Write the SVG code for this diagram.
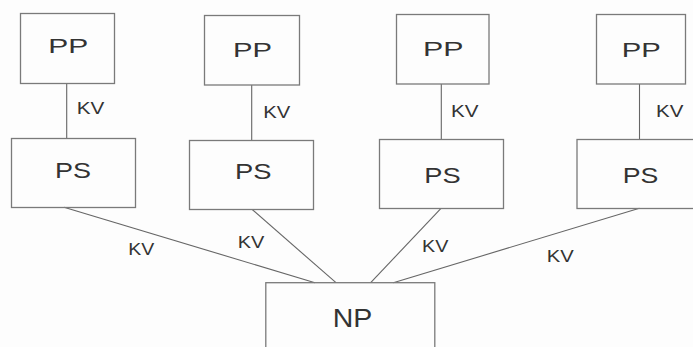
<svg xmlns="http://www.w3.org/2000/svg" width="693" height="347" viewBox="0 0 693 347">
<style>
.box{fill:none;stroke:#7a7a7a;stroke-width:1.3}
.link{stroke:#666;stroke-width:1.1;fill:none}
.lbl{font-family:"Liberation Sans",Arial,sans-serif;fill:#333}
.big{font-size:21px}
.ps{font-size:22px}
.np{font-size:25px}
.kv{font-size:16.5px}
</style>
<rect x="0" y="0" width="693" height="347" fill="#fdfdfd"/>
<g id="connectors">
<line class="link" x1="66.7" y1="83.3" x2="66.7" y2="138.3"/>
<line class="link" x1="251.7" y1="85" x2="251.7" y2="140.3"/>
<line class="link" x1="441.3" y1="84" x2="441.3" y2="139.3"/>
<line class="link" x1="639.5" y1="84" x2="639.5" y2="139.3"/>
<line class="link" x1="64" y1="207.3" x2="315" y2="282.7"/>
<line class="link" x1="252" y1="209.3" x2="336" y2="282.7"/>
<line class="link" x1="441" y1="208.3" x2="370.7" y2="282.7"/>
<line class="link" x1="639.4" y1="208.3" x2="393.3" y2="282.7"/>
<text class="lbl kv" x="76.7" y="114.3" textLength="27.6" lengthAdjust="spacingAndGlyphs">KV</text>
<text class="lbl kv" x="263.3" y="118.3" textLength="27" lengthAdjust="spacingAndGlyphs">KV</text>
<text class="lbl kv" x="451" y="117.3" textLength="27.5" lengthAdjust="spacingAndGlyphs">KV</text>
<text class="lbl kv" x="656" y="116.7" textLength="27.3" lengthAdjust="spacingAndGlyphs">KV</text>
<text class="lbl kv" x="128.3" y="255.3" textLength="26" lengthAdjust="spacingAndGlyphs">KV</text>
<text class="lbl kv" x="237.7" y="248.3" textLength="26.6" lengthAdjust="spacingAndGlyphs">KV</text>
<text class="lbl kv" x="422" y="251.7" textLength="26.3" lengthAdjust="spacingAndGlyphs">KV</text>
<text class="lbl kv" x="546.7" y="262.3" textLength="27" lengthAdjust="spacingAndGlyphs">KV</text>
</g>
<g id="pp1"><rect class="box" x="20.5" y="13.5" width="94" height="70"/><text class="lbl big" x="48.3" y="53.3" textLength="40" lengthAdjust="spacingAndGlyphs">PP</text></g>
<g id="pp2"><rect class="box" x="204.5" y="15.5" width="95" height="69.5"/><text class="lbl big" x="233" y="56.7" textLength="39" lengthAdjust="spacingAndGlyphs">PP</text></g>
<g id="pp3"><rect class="box" x="396.5" y="14.5" width="92.5" height="69.5"/><text class="lbl big" x="423" y="56" textLength="40.5" lengthAdjust="spacingAndGlyphs">PP</text></g>
<g id="pp4"><rect class="box" x="596.5" y="14.5" width="89" height="69.5"/><text class="lbl big" x="621.7" y="56.7" textLength="39" lengthAdjust="spacingAndGlyphs">PP</text></g>
<g id="ps1"><rect class="box" x="11.5" y="138.5" width="124" height="69"/><text class="lbl ps" x="55" y="177.7" textLength="36" lengthAdjust="spacingAndGlyphs">PS</text></g>
<g id="ps2"><rect class="box" x="189.5" y="140.5" width="124" height="69"/><text class="lbl ps" x="235" y="179" textLength="36.5" lengthAdjust="spacingAndGlyphs">PS</text></g>
<g id="ps3"><rect class="box" x="379.5" y="139.5" width="124" height="69"/><text class="lbl ps" x="424.3" y="182.7" textLength="36.4" lengthAdjust="spacingAndGlyphs">PS</text></g>
<g id="ps4"><rect class="box" x="577" y="139.5" width="130" height="69"/><text class="lbl ps" x="622.7" y="182.7" textLength="35.6" lengthAdjust="spacingAndGlyphs">PS</text></g>
<g id="np"><rect class="box" x="265.8" y="282.7" width="169" height="80"/><text class="lbl np" x="332.7" y="327.3" textLength="39.6" lengthAdjust="spacingAndGlyphs">NP</text></g>
</svg>
